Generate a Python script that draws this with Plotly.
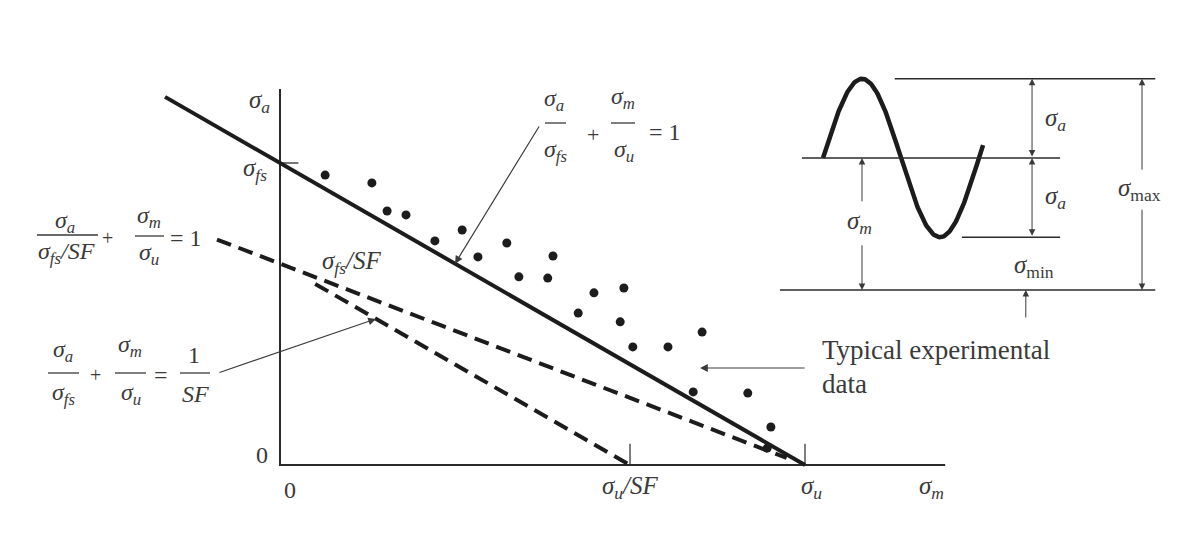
import numpy as np
import plotly.graph_objects as go

# ---------------- data ----------------
SIGMA_U = 1.0      # ultimate strength (x intercept)
SIGMA_FS = 1.0     # fatigue strength (y intercept)
SF = 1.5           # safety factor

# typical experimental data (sigma_m / sigma_u, sigma_a / sigma_fs)
exp_sigma_m = [0.086, 0.175, 0.204, 0.240, 0.295, 0.347, 0.377, 0.432, 0.455, 0.510, 0.520,
               0.568, 0.598, 0.655, 0.648, 0.672, 0.739, 0.804, 0.787, 0.891, 0.935, 0.928]
exp_sigma_a = [0.960, 0.934, 0.841, 0.828, 0.742, 0.778, 0.689, 0.735, 0.623, 0.619, 0.692,
               0.503, 0.570, 0.586, 0.474, 0.391, 0.391, 0.440, 0.242, 0.238, 0.126, 0.056]

goodman_sigma_m = [-0.219, SIGMA_U]        # drawn extent of the Goodman line
safe1_sigma_m = [-0.12, 0.965]             # extent of sigma_a/(sigma_fs/SF)+sigma_m/sigma_u=1
safe2_sigma_m = [0.067, SIGMA_U / SF]      # extent of sigma_a/sigma_fs+sigma_m/sigma_u=1/SF
axis_x_end = 1.267
axis_y_end = 1.245

# inset: fluctuating stress
INSET_MEAN = 1.0
INSET_AMP = 0.6
INSET_CYCLES = 1.026

# ---------------- geometry helpers ----------------
W, H = 1186, 546
X0, Y0, KX, KY = 280, 465, 525, 302     # main-axis origin / scale in pixels


def dx(p):
    return (p - X0) / KX


def dy(p):
    return (Y0 - p) / KY


def ppx(p):
    return p / W


def ppy(p):
    return 1 - p / H


INK = "#2b2b2b"
TXT = "#3a3a3a"
FONT = "Liberation Serif, Times New Roman, serif"


def goodman(sm):
    return SIGMA_FS * (1 - np.asarray(sm) / SIGMA_U)


def safe1(sm):
    return SIGMA_FS / SF * (1 - np.asarray(sm) / SIGMA_U)


def safe2(sm):
    return SIGMA_FS * (1 / SF - np.asarray(sm) / SIGMA_U)


fig = go.Figure()

# axes
fig.add_trace(go.Scatter(x=[0, 0, axis_x_end], y=[axis_y_end, 0, 0], mode="lines",
                         line=dict(color=INK, width=2), hoverinfo="skip"))
# ticks
fig.add_trace(go.Scatter(x=[0, 0.035], y=[SIGMA_FS, SIGMA_FS], mode="lines",
                         line=dict(color=INK, width=1.3), hoverinfo="skip"))
for xt in [SIGMA_U / SF, SIGMA_U]:
    fig.add_trace(go.Scatter(x=[xt, xt], y=[0, 0.07], mode="lines",
                             line=dict(color=INK, width=1.2), hoverinfo="skip"))

# Goodman line
fig.add_trace(go.Scatter(x=goodman_sigma_m, y=goodman(goodman_sigma_m), mode="lines",
                         line=dict(color="#1c1c1c", width=4), hoverinfo="skip"))
# safe lines (dashed)
fig.add_trace(go.Scatter(x=safe1_sigma_m, y=safe1(safe1_sigma_m), mode="lines",
                         line=dict(color="#1c1c1c", width=4, dash="15px,8px"), hoverinfo="skip"))
fig.add_trace(go.Scatter(x=safe2_sigma_m, y=safe2(safe2_sigma_m), mode="lines",
                         line=dict(color="#1c1c1c", width=4, dash="15px,8px"), hoverinfo="skip"))

# experimental data
fig.add_trace(go.Scatter(x=exp_sigma_m, y=exp_sigma_a, mode="markers",
                         marker=dict(color="#1c1c1c", size=9), hoverinfo="skip"))

# ---------------- inset ----------------
t = np.linspace(0, INSET_CYCLES, 200)
fig.add_trace(go.Scatter(x=t, y=INSET_MEAN + INSET_AMP * np.sin(2 * np.pi * t), mode="lines",
                         line=dict(color="#1c1c1c", width=4.5), xaxis="x2", yaxis="y2",
                         hoverinfo="skip"))
s_max = INSET_MEAN + INSET_AMP
s_min = INSET_MEAN - INSET_AMP
inset_lines = [(0.46, 2.13, s_max), (-0.135, 1.52, INSET_MEAN), (0.89, 1.52, s_min), (-0.276, 2.13, 0)]
for a, b, lv in inset_lines:
    fig.add_trace(go.Scatter(x=[a, b], y=[lv, lv], mode="lines", line=dict(color=INK, width=1.5),
                             xaxis="x2", yaxis="y2", hoverinfo="skip"))

annotations = []


def txt(x, y, s, size=25, ref="paper", **kw):
    d = dict(x=x, y=y, text=s, showarrow=False, font=dict(family=FONT, size=size, color=TXT),
             xanchor="center", yanchor="middle")
    if ref == "paper":
        d.update(xref="paper", yref="paper")
    elif ref == "main":
        d.update(xref="x", yref="y")
    else:
        d.update(xref="x2", yref="y2")
    d.update(kw)
    annotations.append(d)


def arrow(hx, hy, tx, ty, ref="main", both=False, width=1.2):
    xr, yr = ("x", "y") if ref == "main" else ("x2", "y2")
    d = dict(x=hx, y=hy, ax=tx, ay=ty, xref=xr, yref=yr, axref=xr, ayref=yr, text="",
             showarrow=True, arrowhead=2, arrowsize=1.3, arrowwidth=width, arrowcolor=TXT)
    if both:
        d.update(arrowside="end+start", startarrowhead=2, startarrowsize=1.3)
    annotations.append(d)


shapes = []


def bar(x1, x2, y):
    shapes.append(dict(type="line", xref="paper", yref="paper", x0=ppx(x1), x1=ppx(x2),
                       y0=ppy(y), y1=ppy(y), line=dict(color=TXT, width=1.3)))


# axis labels
txt(dx(259), dy(101), "<i>σ<sub>a</sub></i>", ref="main")
txt(dx(255), dy(169), "<i>σ<sub>fs</sub></i>", ref="main")
txt(dx(262), dy(455), "0", size=24, ref="main")
txt(dx(290), dy(490), "0", size=24, ref="main")
txt(SIGMA_U / SF, dy(487), "<i>σ<sub>u</sub>/SF</i>", ref="main")
txt(SIGMA_U + 0.012, dy(487), "<i>σ<sub>u</sub></i>", ref="main")
txt(dx(931), dy(487), "<i>σ<sub>m</sub></i>", ref="main")
txt(dx(351), dy(262), "<i>σ<sub>fs</sub>/SF</i>", ref="main")

# equation 1 (Goodman)
txt(ppx(554), ppy(100), "<i>σ<sub>a</sub></i>", size=24)
bar(545, 566, 123)
txt(ppx(556), ppy(151), "<i>σ<sub>fs</sub></i>", size=24)
txt(ppx(593), ppy(134), "+", size=22)
txt(ppx(623), ppy(98), "<i>σ<sub>m</sub></i>", size=24)
bar(611, 635, 123)
txt(ppx(624), ppy(151), "<i>σ<sub>u</sub></i>", size=24)
txt(ppx(665), ppy(132), "= 1", size=24)

# equation 2
txt(ppx(65), ppy(222), "<i>σ<sub>a</sub></i>", size=24)
bar(37, 98, 235)
txt(ppx(66), ppy(253), "<i>σ<sub>fs</sub>/SF</i>", size=24)
txt(ppx(107), ppy(238), "+", size=20)
txt(ppx(149), ppy(217), "<i>σ<sub>m</sub></i>", size=24)
bar(135, 164, 236)
txt(ppx(149), ppy(254), "<i>σ<sub>u</sub></i>", size=24)
txt(ppx(186), ppy(238), "= 1", size=24)

# equation 3
txt(ppx(63), ppy(351), "<i>σ<sub>a</sub></i>", size=24)
bar(48, 79, 373)
txt(ppx(64), ppy(394), "<i>σ<sub>fs</sub></i>", size=24)
txt(ppx(95), ppy(375), "+", size=20)
txt(ppx(130), ppy(346), "<i>σ<sub>m</sub></i>", size=24)
bar(115, 146, 373)
txt(ppx(131), ppy(394), "<i>σ<sub>u</sub></i>", size=24)
txt(ppx(161), ppy(375), "=", size=24)
txt(ppx(194), ppy(355), "1", size=24)
bar(180, 210, 373)
txt(ppx(195), ppy(394), "<i>SF</i>", size=24)

# typical data label
txt(ppx(820), ppy(350), "Typical experimental", size=27, xanchor="left")
txt(ppx(820), ppy(384), "data", size=27, xanchor="left")

# pointer arrows in the main diagram
arrow(dx(455), goodman(dx(455)), dx(540), dy(125))
arrow(dx(376), safe2(dx(376)), dx(218), dy(373))
arrow(dx(700), dy(368), dx(806), dy(368))

# inset dimension arrows and labels
ta = 1.34
arrow(ta, s_max, ta, INSET_MEAN, ref="inset", both=True, width=1.0)
arrow(ta, INSET_MEAN, ta, s_min, ref="inset", both=True, width=1.0)
txt(1.49, 1.29, "<i>σ<sub>a</sub></i>", ref="inset")
txt(1.49, 0.70, "<i>σ<sub>a</sub></i>", ref="inset")
tm = 0.25
arrow(tm, INSET_MEAN, tm, 0.66, ref="inset", width=1.0)
arrow(tm, 0, tm, 0.35, ref="inset", width=1.0)
txt(0.235, 0.51, "<i>σ<sub>m</sub></i>", ref="inset")
tM = 2.045
arrow(tM, s_max, tM, 0.90, ref="inset", width=1.0)
arrow(tM, 0, tM, 0.62, ref="inset", width=1.0)
txt(2.03, 0.76, "<i>σ</i><sub>max</sub>", ref="inset")
txt(1.35, 0.175, "<i>σ</i><sub>min</sub>", ref="inset")
arrow(1.30, 0, 1.30, -0.22, ref="inset", width=1.0)

# ---------------- layout ----------------
fig.update_layout(
    width=W, height=H, margin=dict(l=0, r=0, t=0, b=0),
    paper_bgcolor="white", plot_bgcolor="white", showlegend=False,
    xaxis=dict(range=[dx(0), dx(W)], visible=False, domain=[0, 1], fixedrange=True),
    yaxis=dict(range=[dy(H), dy(0)], visible=False, domain=[0, 1], fixedrange=True),
    xaxis2=dict(range=[(770 - 823) / 156, (1186 - 823) / 156], visible=False,
                domain=[770 / W, 1.0], anchor="y2", fixedrange=True),
    yaxis2=dict(range=[(290 - 330) / 132, (290 - 60) / 132], visible=False,
                domain=[1 - 330 / H, 1 - 60 / H], anchor="x2", fixedrange=True),
    annotations=annotations, shapes=shapes,
)

fig.write_html("out.html", config={"displayModeBar": False},
               post_script="document.body.style.margin='0';")
